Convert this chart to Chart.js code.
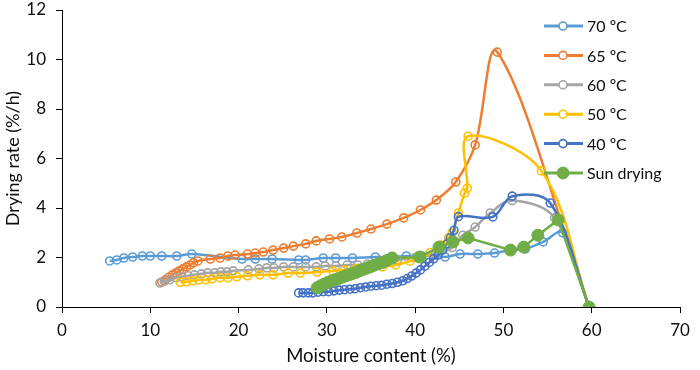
<!DOCTYPE html>
<html>
<head>
<meta charset="utf-8">
<script src="https://cdn.jsdelivr.net/npm/chart.js@4.4.1/dist/chart.umd.min.js"></script>
<style>
  html, body { margin: 0; padding: 0; background: #fff; }
  #wrap { width: 700px; height: 370px; }
</style>
</head>
<body>
<div id="wrap"><canvas id="dryChart" width="700" height="370"></canvas></div>
<script>
// series labels and colours
const seriesNames = ["70 \u00baC", "65 \u00baC", "60 \u00baC", "50 \u00baC", "40 \u00baC", "Sun drying"];
const seriesColors = ["#5B9BD5", "#ED7D31", "#A5A5A5", "#FFC000", "#4472C4", "#70AD47"];

// axis ranges (moisture %, drying rate %/h)
const xMin = 0, xMax = 70, xStep = 10;
const yMin = 0, yMax = 12, yStep = 2;

// 70 C
const moist70 = [5.4, 6.2, 7.0, 8.0, 9.1, 10.0, 11.3, 13.0, 14.7, 20.4, 21.9, 23.8, 26.8, 27.6, 29.6, 31.0, 32.9, 35.5, 37.3, 39.0, 40.8, 42.3, 43.4, 45.1, 47.1, 49.0, 50.8, 52.5, 54.5, 56.7, 59.7];
const rate70  = [1.86, 1.9, 1.98, 2.02, 2.06, 2.06, 2.06, 2.06, 2.14, 1.94, 1.94, 1.94, 1.9, 1.9, 1.98, 1.98, 1.98, 2.02, 2.02, 2.06, 2.06, 2.1, 2.02, 2.14, 2.14, 2.18, 2.3, 2.35, 2.63, 3.0, 0];

// 65 C
const moist65 = [11.3, 11.7, 12.1, 12.5, 12.9, 13.3, 13.7, 14.1, 14.5, 14.9, 15.4, 16.8, 17.9, 18.8, 19.6, 21.0, 21.9, 22.8, 23.9, 25.1, 26.2, 27.6, 28.8, 30.3, 31.7, 33.4, 35.0, 36.8, 38.7, 40.6, 42.4, 44.6, 46.8, 49.3, 59.7];
const rate65  = [1.01, 1.1, 1.2, 1.3, 1.38, 1.46, 1.54, 1.62, 1.7, 1.78, 1.86, 1.94, 1.98, 2.06, 2.1, 2.14, 2.18, 2.22, 2.3, 2.38, 2.46, 2.55, 2.67, 2.75, 2.83, 2.99, 3.15, 3.35, 3.6, 3.92, 4.32, 5.05, 6.55, 10.3, 0];

// 60 C
const moist60 = [11.1, 11.6, 12.2, 12.9, 13.6, 14.3, 15.0, 15.8, 16.5, 17.3, 18.0, 18.7, 19.4, 21.1, 22.3, 23.2, 24.0, 25.1, 26.2, 27.6, 28.8, 29.8, 31.0, 32.3, 33.5, 34.6, 36.2, 38.0, 40.0, 42.0, 44.2, 45.4, 46.8, 48.5, 51.0, 55.8, 59.7];
const rate60  = [0.97, 1.05, 1.1, 1.18, 1.22, 1.26, 1.3, 1.34, 1.38, 1.38, 1.42, 1.42, 1.46, 1.5, 1.54, 1.58, 1.58, 1.62, 1.62, 1.62, 1.62, 1.66, 1.66, 1.7, 1.7, 1.74, 1.8, 1.9, 2.0, 2.1, 2.4, 2.9, 3.23, 3.8, 4.3, 3.6, 0];

// 50 C
const moist50 = [13.4, 14.1, 14.8, 15.5, 16.3, 17.0, 17.9, 18.8, 19.8, 21.0, 22.4, 23.9, 25.6, 27.0, 28.9, 30.7, 32.0, 33.3, 34.8, 36.3, 37.8, 39.4, 40.5, 41.7, 42.9, 43.8, 44.2, 44.9, 45.6, 45.9, 46.0, 54.3, 59.7];
const rate50  = [1.0, 1.02, 1.06, 1.1, 1.1, 1.14, 1.18, 1.18, 1.22, 1.26, 1.3, 1.3, 1.37, 1.37, 1.41, 1.45, 1.49, 1.54, 1.58, 1.62, 1.7, 1.85, 2.0, 2.2, 2.5, 2.8, 3.0, 3.8, 4.6, 4.8, 6.9, 5.5, 0];

// 40 C
const moist40 = [26.8, 27.3, 27.9, 28.4, 29.0, 29.6, 30.2, 30.8, 31.4, 32.0, 32.6, 33.2, 33.8, 34.4, 35.0, 35.6, 36.2, 36.8, 37.4, 38.0, 38.6, 39.1, 39.6, 40.1, 40.6, 41.1, 41.6, 42.1, 42.6, 43.1, 43.6, 44.0, 44.4, 44.9, 48.8, 51.0, 55.3, 59.7];
const rate40  = [0.57, 0.57, 0.57, 0.57, 0.6, 0.62, 0.62, 0.65, 0.68, 0.7, 0.72, 0.74, 0.78, 0.81, 0.84, 0.86, 0.88, 0.92, 0.95, 1.0, 1.06, 1.15, 1.25, 1.37, 1.5, 1.65, 1.8, 1.95, 2.1, 2.3, 2.55, 2.8, 3.1, 3.65, 3.64, 4.48, 4.2, 0];

// sun drying
const moistSun = [28.9, 29.3, 29.7, 30.1, 30.5, 30.9, 31.3, 31.7, 32.1, 32.5, 32.9, 33.3, 33.7, 34.1, 34.5, 34.9, 35.3, 35.8, 36.3, 36.8, 37.4, 40.5, 42.7, 44.3, 46.0, 50.8, 52.3, 53.9, 56.2, 59.7];
const rateSun  = [0.78, 0.86, 0.93, 0.99, 1.05, 1.1, 1.15, 1.2, 1.25, 1.3, 1.35, 1.4, 1.46, 1.52, 1.57, 1.62, 1.68, 1.74, 1.8, 1.88, 1.98, 2.02, 2.42, 2.63, 2.79, 2.3, 2.42, 2.9, 3.52, 0];

const allX = [moist70, moist65, moist60, moist50, moist40, moistSun];
const allY = [rate70, rate65, rate60, rate50, rate40, rateSun];

const FONT = "Lato, 'Open Sans', sans-serif";
const TEXT = "#0d0d0d";

const datasets = seriesNames.map((name, i) => {
  const sun = i === 5;
  return {
    label: name,
    data: allX[i].map((x, k) => ({ x: x, y: allY[i][k] })),
    showLine: true,
    borderColor: seriesColors[i],
    borderWidth: 2.5,
    tension: sun ? 0 : 0.35,
    pointStyle: "circle",
    pointRadius: sun ? 6 : 4,
    pointBorderWidth: sun ? 1 : 1.6,
    pointBackgroundColor: sun ? seriesColors[i] : "rgba(255,255,255,0)",
    pointBorderColor: seriesColors[i],
    order: 5 - i
  };
});

// legend drawn inside the plot, at the right like the spreadsheet original
const plotLegend = {
  id: "plotLegend",
  afterDraw(chart) {
    const ctx = chart.ctx;
    const x0 = 544, x1 = 583, top = 26, gap = 29.4;
    ctx.save();
    chart.data.datasets.forEach((ds, i) => {
      const y = top + i * gap;
      ctx.strokeStyle = ds.borderColor;
      ctx.lineWidth = 3;
      ctx.beginPath();
      ctx.moveTo(x0, y);
      ctx.lineTo(x1, y);
      ctx.stroke();
      ctx.beginPath();
      ctx.arc(563, y, ds.pointRadius, 0, Math.PI * 2);
      ctx.fillStyle = i === 5 ? ds.borderColor : "#fff";
      ctx.fill();
      ctx.lineWidth = ds.pointBorderWidth;
      ctx.stroke();
      ctx.fillStyle = TEXT;
      ctx.font = "16px " + FONT;
      ctx.textBaseline = "middle";
      ctx.textAlign = "left";
      ctx.fillText(ds.label, 587, y + 1);
    });
    ctx.restore();
  }
};

new Chart(document.getElementById("dryChart"), {
  type: "scatter",
  data: { datasets: datasets },
  plugins: [plotLegend],
  options: {
    responsive: false,
    animation: false,
    layout: { padding: { top: 10, right: 20, left: 0, bottom: 0 } },
    plugins: { legend: { display: false }, tooltip: { enabled: false } },
    scales: {
      x: {
        type: "linear",
        min: xMin, max: xMax,
        ticks: { stepSize: xStep, color: TEXT, font: { family: FONT, size: 17 }, padding: 7 },
        grid: { drawOnChartArea: false, drawTicks: true, tickLength: 6, color: "#000" },
        border: { color: "#000", width: 1 },
        title: { display: true, text: "Moisture content (%)", color: TEXT, font: { family: FONT, size: 18.5 }, padding: { top: 0, bottom: 3 } },
        afterFit(s) { s.height = 63; s.paddingLeft = 0; s.paddingRight = 0; }
      },
      y: {
        type: "linear",
        min: yMin, max: yMax,
        ticks: { stepSize: yStep, color: TEXT, font: { family: FONT, size: 17 }, padding: 10 },
        grid: { drawOnChartArea: false, drawTicks: true, tickLength: 6, color: "#000" },
        border: { color: "#000", width: 1 },
        title: { display: true, text: "Drying rate (%/h)", color: TEXT, font: { family: FONT, size: 18 }, padding: { top: 2, bottom: 0 } },
        afterFit(s) { s.width = 62; s.paddingTop = 0; s.paddingBottom = 0; }
      }
    }
  }
});
</script>
</body>
</html>
